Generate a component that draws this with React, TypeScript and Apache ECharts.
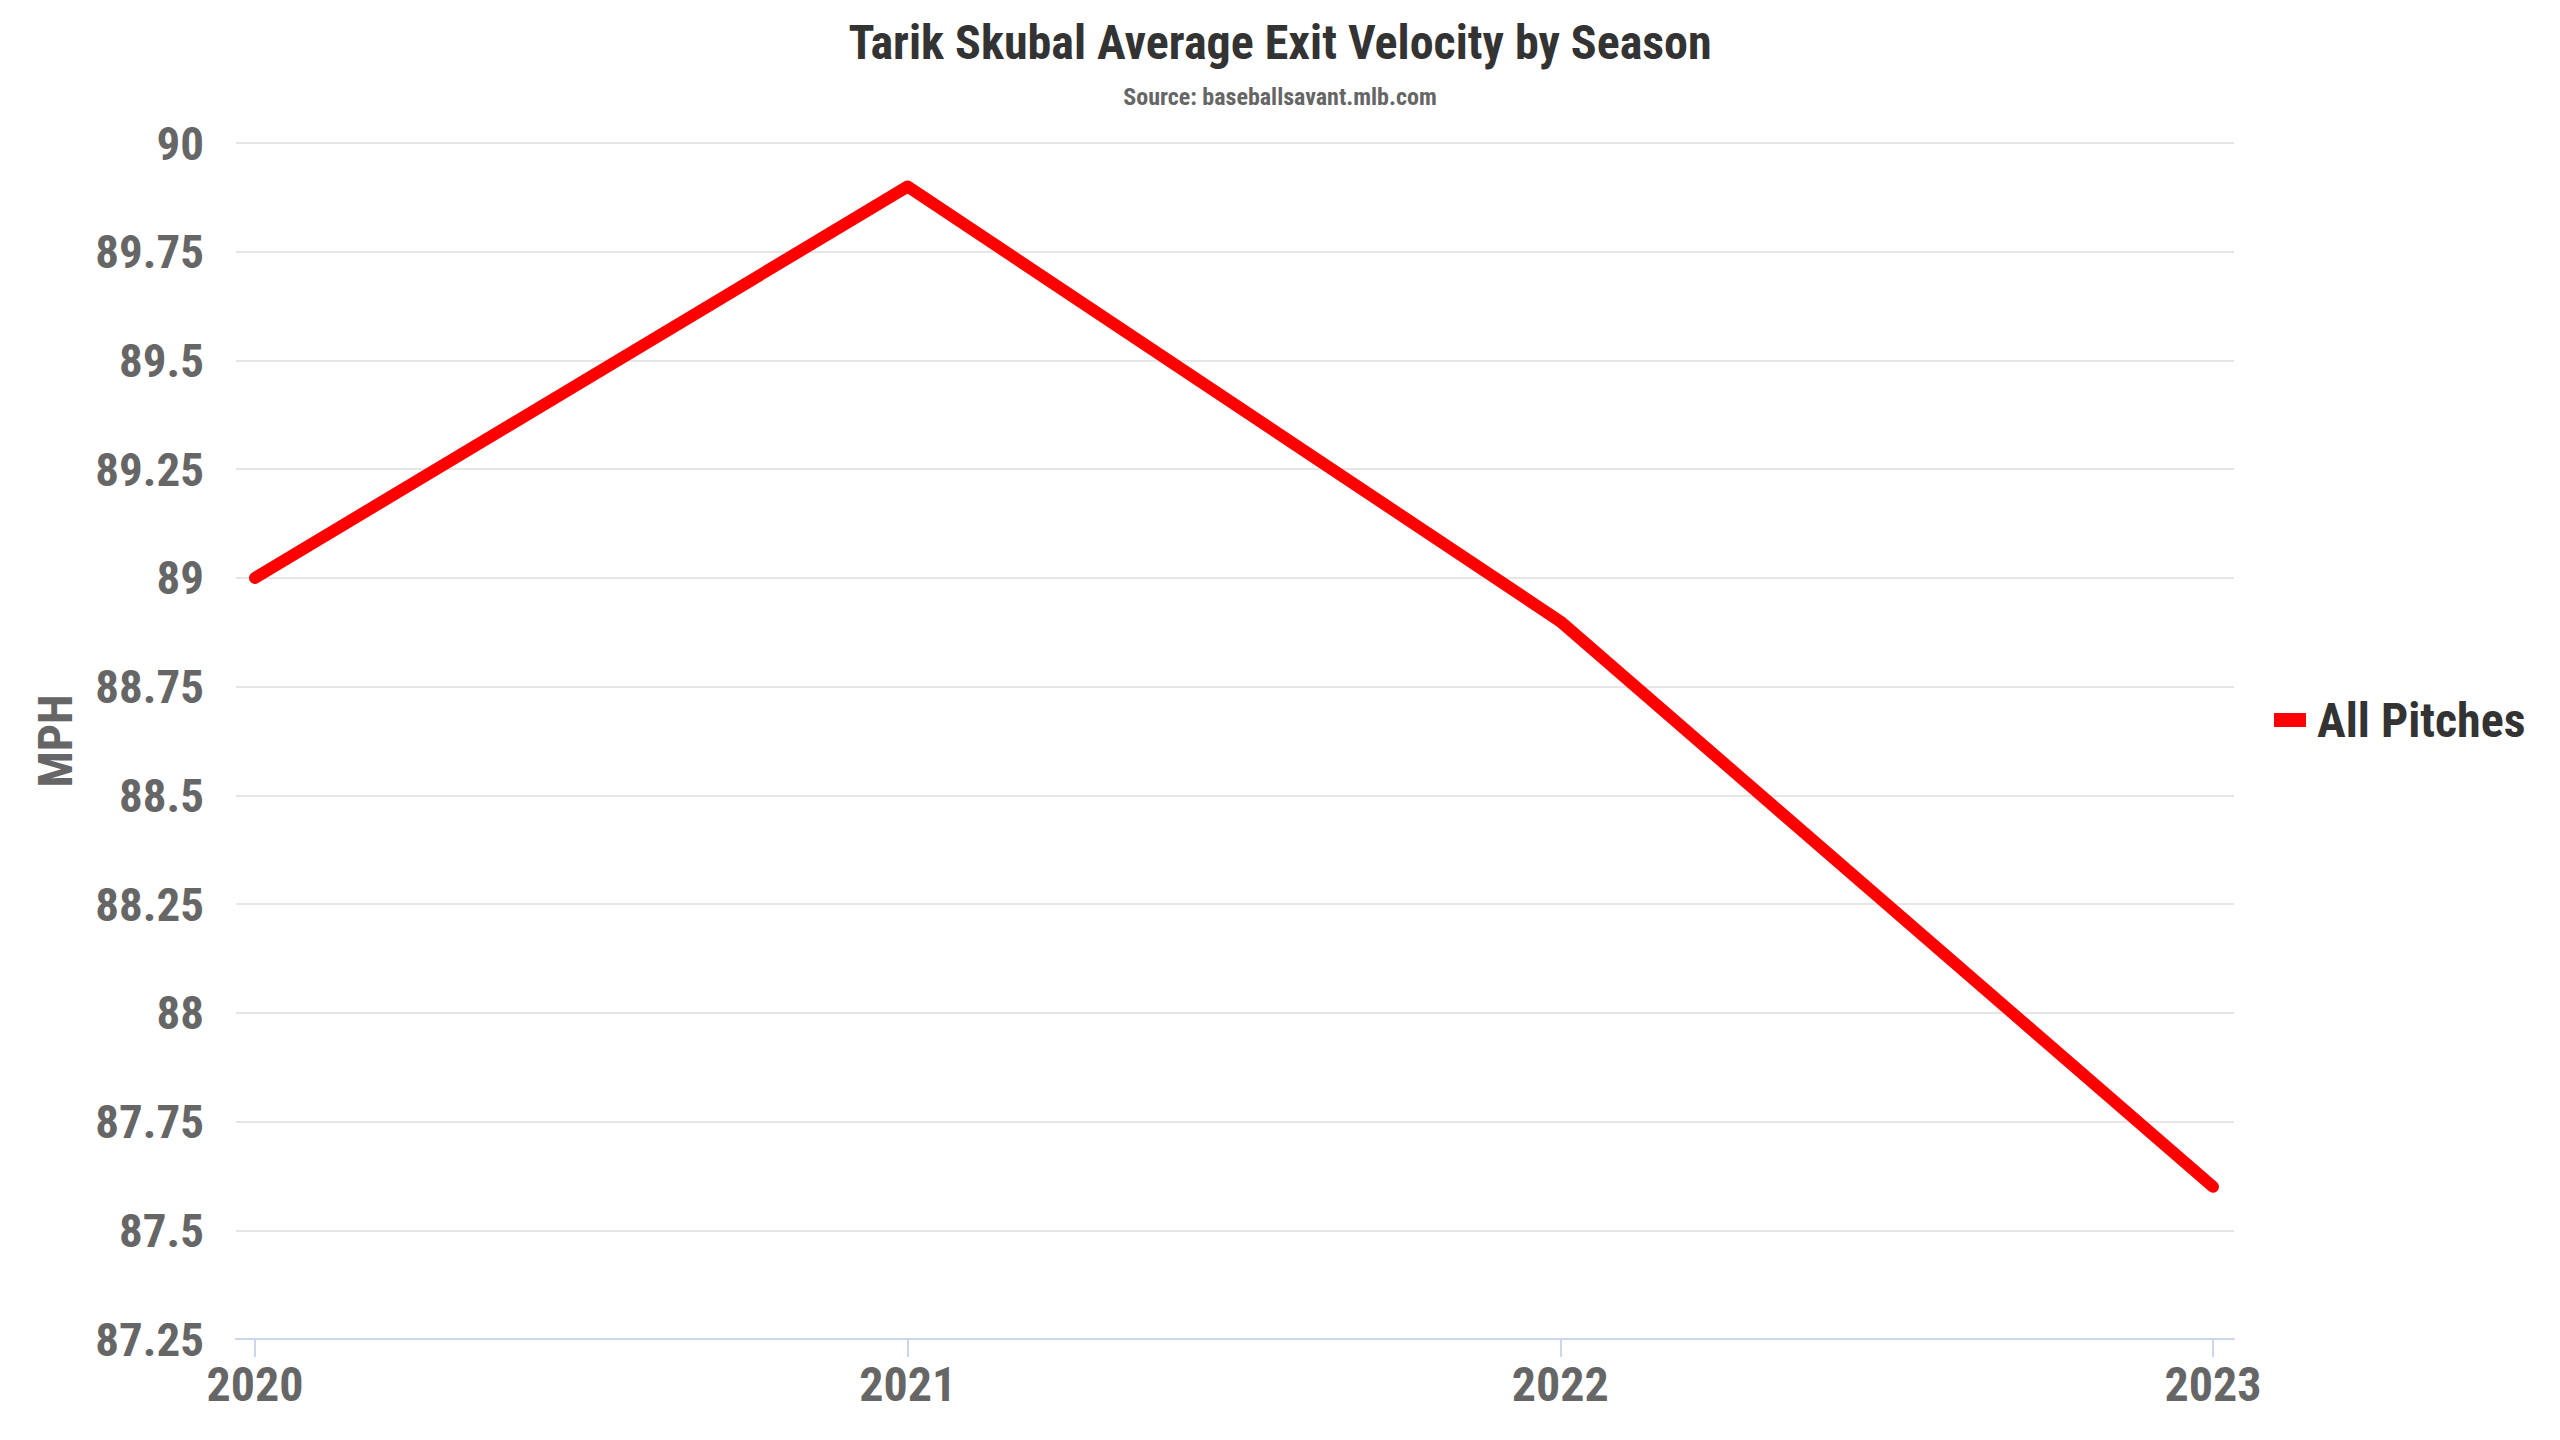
import React, { useEffect, useRef } from "react";
import * as echarts from "echarts";

const TITLE = "Tarik Skubal Average Exit Velocity by Season";
const SUBTITLE = "Source: baseballsavant.mlb.com";
const SEASONS = ["2020", "2021", "2022", "2023"];
const ALL_PITCHES = [89.0, 89.9, 88.9, 87.6];
const SERIES_NAME = "All Pitches";
const Y_AXIS_NAME = "MPH";

const FONT = "'Roboto Condensed', 'Liberation Sans Narrow', 'DejaVu Sans Condensed', Roboto, sans-serif";

export default function App() {
  const ref = useRef<HTMLDivElement>(null);
  useEffect(() => {
    document.body.style.margin = "0";
    const chart = echarts.init(ref.current!, null, { renderer: "svg" });
    const years = SEASONS.map((s) => Number(s));
    chart.setOption({
      animation: false,
      backgroundColor: "#ffffff",
      textStyle: { fontFamily: FONT },
      title: {
        text: TITLE,
        subtext: SUBTITLE,
        left: "center",
        top: 13,
        itemGap: 19,
        textStyle: { fontFamily: FONT, fontSize: 48, fontWeight: "bold", color: "#333333" },
        subtextStyle: { fontFamily: FONT, fontSize: 24, fontWeight: "bold", color: "#666666" },
      },
      legend: {
        orient: "vertical",
        left: 2269,
        top: "middle",
        icon: "rect",
        itemWidth: 32,
        itemHeight: 14,
        itemGap: 8,
        textStyle: { fontFamily: FONT, fontSize: 48, fontWeight: "bold", color: "#333333", padding: [0, 0, 0, 6] },
        data: [SERIES_NAME],
      },
      grid: { left: 236, right: 326, top: 143, bottom: 101, containLabel: false },
      xAxis: {
        type: "value",
        min: 2019.9709,
        max: 2023.0322,
        splitLine: { show: false },
        axisLine: { show: true, lineStyle: { color: "#ccd6eb", width: 2 } },
        axisTick: { show: true, customValues: years, length: 18, lineStyle: { color: "#ccd6eb", width: 2 } },
        axisLabel: {
          customValues: years,
          formatter: (v: number) => String(v),
          fontFamily: FONT,
          fontSize: 48,
          fontWeight: "bold",
          color: "#666666",
          margin: 21,
        },
      },
      yAxis: {
        type: "value",
        min: 87.25,
        max: 90,
        interval: 0.25,
        name: Y_AXIS_NAME,
        nameLocation: "middle",
        nameRotate: 90,
        nameGap: 157,
        nameTextStyle: { fontFamily: FONT, fontSize: 48, fontWeight: "bold", color: "#666666" },
        axisLine: { show: false },
        axisTick: { show: false },
        splitLine: { show: true, lineStyle: { color: "#e6e6e6", width: 2 } },
        axisLabel: {
          fontFamily: FONT,
          fontSize: 47,
          fontWeight: "bold",
          color: "#666666",
          margin: 32,
        },
      },
      series: [
        {
          name: SERIES_NAME,
          type: "line",
          data: years.map((y, i) => [y, ALL_PITCHES[i]]),
          showSymbol: false,
          symbol: "none",
          lineStyle: { color: "#ff0000", width: 12, cap: "round", join: "round" },
          itemStyle: { color: "#ff0000" },
        },
      ],
    });
    return () => chart.dispose();
  }, []);
  return <div ref={ref} style={{ position: "fixed", left: 0, top: 0, width: 2560, height: 1440 }} />;
}
